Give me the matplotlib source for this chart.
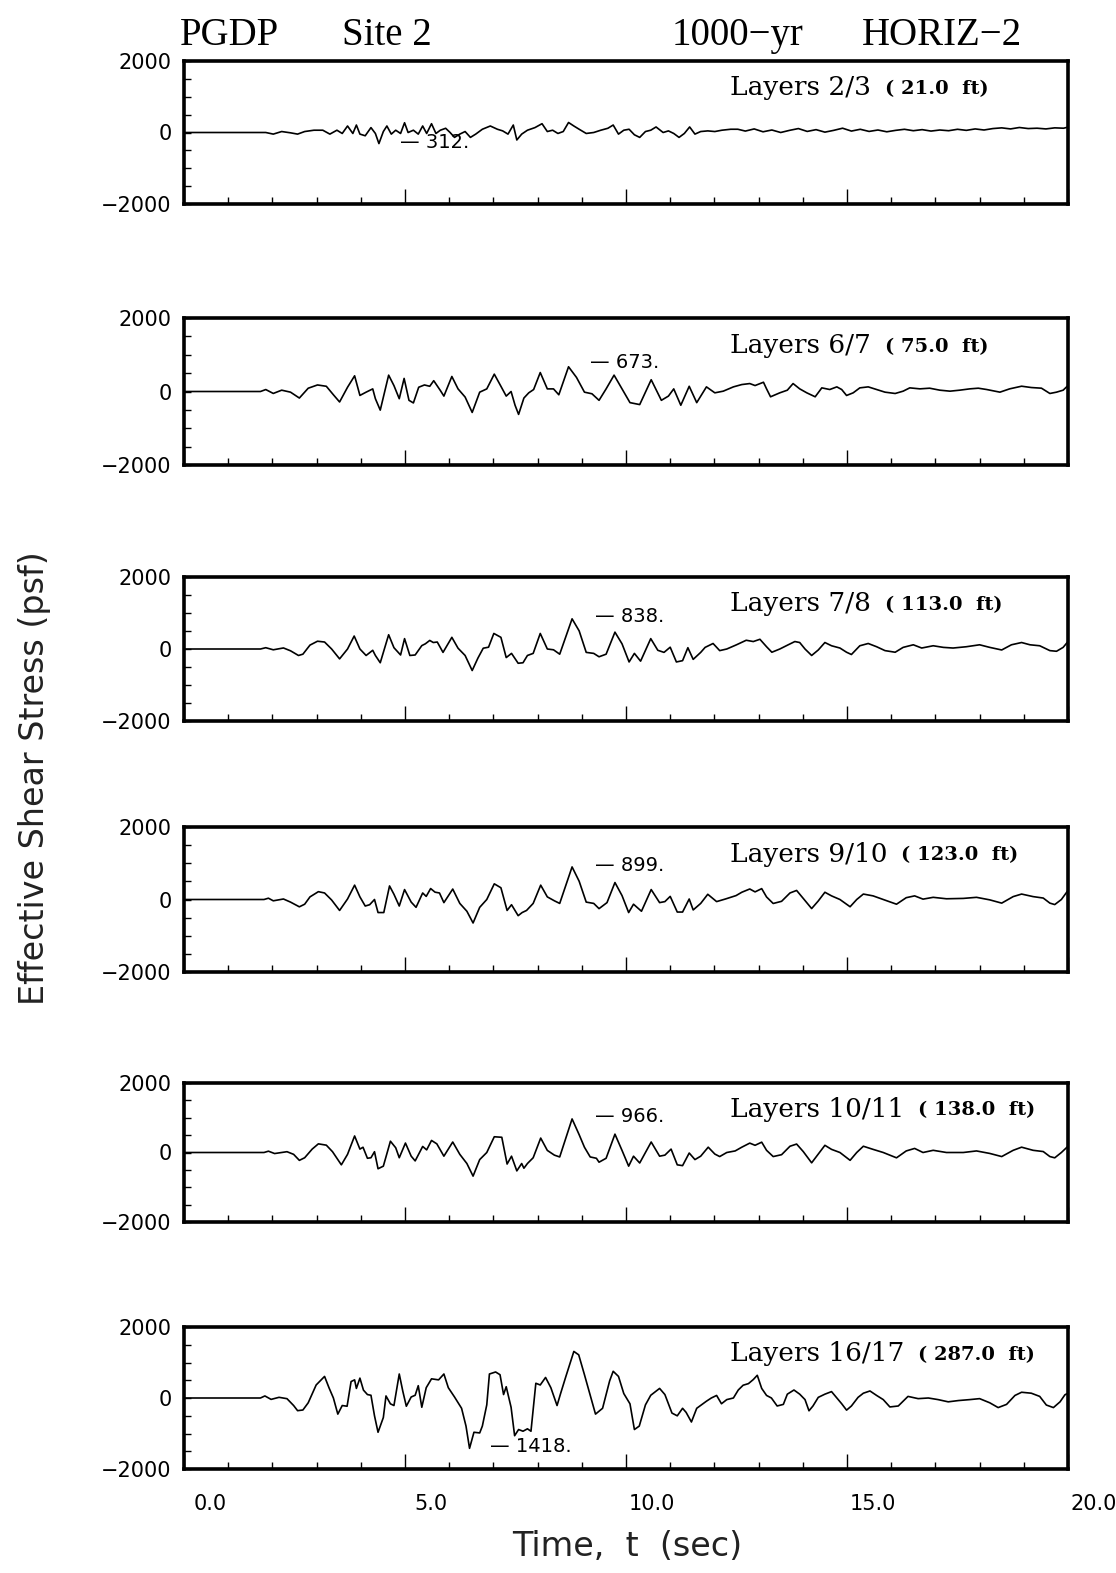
import matplotlib
matplotlib.use('Agg')
import matplotlib.pyplot as plt
from matplotlib.transforms import ScaledTranslation

# (time s, effective shear stress psf)
layers_2_3 = [(0, 0), (1.85, 0), (2.02, -45), (2.21, 27), (2.41, -9), (2.57, -45), (2.73, 27), (2.94, 64),
              (3.14, 64), (3.30, -45), (3.46, 64), (3.58, -27), (3.70, 182), (3.82, -27), (3.90, 209),
              (3.98, -45), (4.10, -91), (4.23, 137), (4.33, -27), (4.41, -310), (4.51, 27), (4.59, 182),
              (4.69, -45), (4.79, 64), (4.90, -27), (4.99, 273), (5.07, 0), (5.19, 64), (5.30, -45),
              (5.40, 182), (5.49, -27), (5.60, 246), (5.70, -27), (5.80, 64), (5.92, 118), (6.02, 0),
              (6.12, -137), (6.24, -45), (6.36, 27), (6.48, -137), (6.60, -45), (6.75, 91), (6.93, 182),
              (7.09, 91), (7.21, 45), (7.33, -45), (7.45, 209), (7.53, -209), (7.64, -45), (7.77, 64),
              (7.94, 137), (8.10, 246), (8.22, 27), (8.34, 64), (8.46, -27), (8.58, 27), (8.70, 280),
              (8.82, 182), (8.94, 91), (9.10, -27), (9.27, 0), (9.43, 64), (9.59, 118), (9.71, 209),
              (9.83, -45), (9.95, 64), (10.07, 91), (10.19, -64), (10.31, -137), (10.44, 27), (10.56, 64),
              (10.68, 155), (10.84, 0), (10.96, 45), (11.08, -27), (11.20, -137), (11.32, -27), (11.44, 155),
              (11.56, -45), (11.69, 27), (11.85, 45), (12.01, 27), (12.17, 64), (12.37, 91), (12.53, 91),
              (12.7, 40), (12.9, 100), (13.1, 20), (13.3, 70), (13.5, 0), (13.7, 60), (13.9, 110), (14.1, 30),
              (14.3, 80), (14.5, 10), (14.7, 60), (14.9, 120), (15.1, 40), (15.3, 90), (15.5, 30), (15.7, 70),
              (15.9, 20), (16.1, 60), (16.3, 90), (16.5, 50), (16.7, 80), (16.9, 40), (17.1, 70), (17.3, 50),
              (17.5, 90), (17.7, 60), (17.9, 100), (18.1, 70), (18.3, 110), (18.5, 130), (18.7, 100),
              (18.9, 140), (19.1, 110), (19.3, 120), (19.5, 100), (19.7, 130), (19.9, 120), (20.0, 150)]

layers_6_7 = [(0, 0), (1.73, 0), (1.85, 53), (2.02, -53), (2.21, 36), (2.41, -18), (2.61, -178), (2.81, 89),
              (3.02, 178), (3.22, 142), (3.38, -89), (3.52, -285), (3.70, 116), (3.86, 427), (3.98, -107),
              (4.12, -18), (4.27, 71), (4.33, -196), (4.44, -507), (4.63, 445), (4.75, 160), (4.87, -196),
              (4.98, 356), (5.09, -240), (5.19, -311), (5.31, 116), (5.44, 178), (5.56, 142), (5.65, 294),
              (5.80, 27), (5.88, -125), (6.06, 409), (6.20, 71), (6.36, -151), (6.52, -570), (6.69, -18),
              (6.85, 71), (7.02, 472), (7.17, 142), (7.29, -125), (7.40, 0), (7.49, -374), (7.57, -623),
              (7.69, -178), (7.80, -36), (7.91, 53), (8.06, 516), (8.22, 71), (8.36, 71), (8.48, -89),
              (8.70, 673), (8.88, 383), (9.06, -18), (9.23, -62), (9.39, -240), (9.55, 71), (9.73, 445),
              (9.91, 71), (10.09, -303), (10.31, -356), (10.57, 320), (10.80, -240), (10.96, -125),
              (11.08, 71), (11.24, -374), (11.43, 142), (11.60, -303), (11.82, 126), (12.01, -36), (12.2, 9),
              (12.43, 126), (12.62, 189), (12.80, 216), (12.92, 162), (13.11, 252), (13.18, 72), (13.27, -144),
              (13.48, -36), (13.65, 36), (13.78, 216), (13.93, 72), (14.09, -36), (14.28, -144), (14.43, 99),
              (14.61, 54), (14.77, 126), (14.88, 54), (14.99, -108), (15.14, -36), (15.29, 99), (15.48, 126),
              (15.67, 54), (15.86, -18), (16.09, -54), (16.27, 9), (16.42, 99), (16.65, 72), (16.87, 90),
              (17.10, 36), (17.33, 9), (17.55, 36), (17.78, 72), (17.97, 90), (18.16, 54), (18.46, -18),
              (18.68, 72), (18.95, 144), (19.17, 108), (19.40, 90), (19.59, -54), (19.74, -18), (19.89, 36),
              (20.0, 162)]

layers_7_8 = [(0, 0), (1.73, 0), (1.85, 36), (2.02, -22), (2.25, 29), (2.41, -50), (2.59, -180), (2.69, -144),
              (2.85, 108), (3.02, 216), (3.18, 194), (3.34, 0), (3.52, -274), (3.70, 0), (3.85, 360), (3.98, 0),
              (4.12, -180), (4.27, -36), (4.33, -180), (4.44, -382), (4.63, 396), (4.75, 36), (4.90, -166),
              (4.99, 288), (5.11, -180), (5.23, -166), (5.38, 94), (5.46, 144), (5.56, 238), (5.64, 180),
              (5.73, 194), (5.86, -94), (6.06, 324), (6.20, 22), (6.36, -180), (6.52, -598), (6.65, -252),
              (6.77, 22), (6.89, 50), (7.01, 432), (7.17, 324), (7.29, -238), (7.41, -122), (7.56, -396),
              (7.67, -382), (7.77, -180), (7.90, -122), (8.06, 432), (8.22, 0), (8.36, -22), (8.50, -144),
              (8.78, 838), (8.94, 504), (9.10, -94), (9.27, -122), (9.39, -216), (9.55, -144), (9.75, 468),
              (9.91, 144), (10.07, -360), (10.19, -122), (10.33, -338), (10.56, 288), (10.72, -36),
              (10.86, -94), (11.00, 50), (11.14, -360), (11.28, -324), (11.40, 36), (11.52, -288),
              (11.69, -94), (11.79, 45), (11.97, 153), (12.12, -45), (12.28, 0), (12.50, 117), (12.72, 243),
              (12.88, 207), (13.03, 270), (13.18, 63), (13.30, -90), (13.48, 0), (13.67, 117), (13.82, 207),
              (13.93, 180), (14.05, 0), (14.20, -180), (14.35, -27), (14.50, 180), (14.65, 90), (14.84, 27),
              (14.99, -90), (15.10, -153), (15.29, 90), (15.48, 153), (15.67, 63), (15.86, -45), (16.09, -90),
              (16.27, 45), (16.50, 117), (16.69, 27), (16.95, 90), (17.18, 45), (17.40, 27), (17.70, 63),
              (18.00, 117), (18.23, 45), (18.50, -27), (18.72, 117), (18.95, 180), (19.14, 117), (19.36, 90),
              (19.59, -45), (19.74, -63), (19.89, 45), (20.0, 207)]

layers_9_10 = [(0, 0), (1.81, 0), (1.91, 36), (2.02, -36), (2.25, 14), (2.41, -72), (2.61, -202), (2.73, -130),
               (2.85, 72), (3.04, 216), (3.18, 180), (3.34, -14), (3.52, -302), (3.70, 14), (3.86, 396),
               (3.98, 72), (4.10, -180), (4.20, -144), (4.31, 0), (4.39, -360), (4.52, -360), (4.65, 374),
               (4.75, 144), (4.87, -180), (4.99, 274), (5.14, -72), (5.25, -216), (5.40, 180), (5.48, 86),
               (5.58, 302), (5.68, 202), (5.78, 180), (5.88, -86), (6.08, 288), (6.24, -108), (6.40, -324),
               (6.54, -648), (6.69, -216), (6.85, 0), (7.02, 432), (7.17, 324), (7.31, -302), (7.41, -144),
               (7.56, -446), (7.65, -360), (7.75, -302), (7.90, -108), (8.07, 396), (8.22, 72), (8.38, -36),
               (8.50, -108), (8.78, 899), (8.94, 504), (9.10, -72), (9.27, -108), (9.39, -252), (9.57, -86),
               (9.75, 468), (9.91, 108), (10.06, -360), (10.17, -130), (10.35, -324), (10.57, 274),
               (10.76, -86), (10.88, -58), (11.00, 86), (11.16, -346), (11.28, -346), (11.43, 14),
               (11.52, -288), (11.69, -108), (11.85, 144), (12.05, -58), (12.25, 14), (12.49, 108),
               (12.62, 200), (12.80, 290), (12.92, 210), (13.07, 300), (13.18, 70), (13.33, -110),
               (13.52, -50), (13.71, 180), (13.86, 250), (14.01, 30), (14.20, -250), (14.35, -40), (14.50, 200),
               (14.65, 100), (14.84, 0), (15.07, -200), (15.22, 0), (15.37, 150), (15.59, 100), (15.82, 0),
               (16.12, -130), (16.34, 50), (16.53, 100), (16.72, 10), (16.95, 60), (17.25, 20), (17.63, 30),
               (17.93, 60), (18.23, -10), (18.50, -100), (18.76, 80), (18.95, 150), (19.21, 80), (19.44, 40),
               (19.59, -100), (19.70, -140), (19.85, 0), (20.0, 250)]

layers_10_11 = [(0, 0), (1.81, 0), (1.91, 38), (2.05, -30), (2.33, 23), (2.48, -53), (2.61, -226), (2.73, -151),
                (2.90, 98), (3.04, 249), (3.22, 211), (3.36, 23), (3.56, -355), (3.70, -53), (3.86, 476),
                (3.98, 98), (4.05, 151), (4.15, -166), (4.23, -151), (4.31, 23), (4.39, -468), (4.51, -393),
                (4.67, 325), (4.79, 136), (4.87, -151), (5.01, 272), (5.14, -106), (5.23, -242), (5.40, 174),
                (5.49, 76), (5.60, 347), (5.72, 249), (5.88, -106), (6.08, 302), (6.24, -53), (6.40, -317),
                (6.54, -680), (6.69, -204), (6.85, 0), (7.02, 453), (7.19, 438), (7.31, -332), (7.41, -106),
                (7.53, -529), (7.64, -317), (7.69, -453), (7.77, -317), (7.90, -151), (8.07, 415), (8.22, 60),
                (8.38, -76), (8.50, -128), (8.78, 966), (8.94, 513), (9.06, 151), (9.19, -128), (9.33, -166),
                (9.39, -279), (9.55, -166), (9.75, 528), (9.91, 60), (10.06, -393), (10.17, -106),
                (10.31, -302), (10.57, 302), (10.76, -106), (10.88, -76), (11.02, 98), (11.16, -355),
                (11.28, -378), (11.43, -15), (11.56, -204), (11.69, -106), (11.86, 153), (12.01, -45),
                (12.12, -117), (12.28, 0), (12.47, 45), (12.62, 153), (12.80, 270), (12.92, 207), (13.07, 297),
                (13.18, 63), (13.33, -117), (13.52, -63), (13.71, 180), (13.86, 243), (14.01, 27), (14.20, -297),
                (14.35, -45), (14.50, 207), (14.65, 90), (14.84, 0), (15.07, -225), (15.22, 0), (15.37, 180),
                (15.59, 90), (15.82, 0), (16.12, -153), (16.34, 45), (16.53, 117), (16.72, 0), (16.95, 63),
                (17.25, 0), (17.63, 0), (17.93, 45), (18.23, -27), (18.50, -117), (18.76, 63), (18.95, 153),
                (19.21, 63), (19.44, 27), (19.59, -117), (19.70, -153), (19.85, 0), (20.0, 180)]

layers_16_17 = [(0, 0), (1.73, 0), (1.83, 58), (1.97, -39), (2.15, 19), (2.33, -19), (2.48, -212), (2.57, -357),
                (2.69, -338), (2.81, -135), (2.99, 367), (3.18, 608), (3.28, 290), (3.38, 0), (3.48, -454),
                (3.58, -212), (3.69, -232), (3.78, 463), (3.86, 511), (3.90, 270), (3.98, 560), (4.06, 222),
                (4.15, 97), (4.23, 77), (4.31, -502), (4.39, -965), (4.51, -550), (4.57, 58), (4.67, -164),
                (4.75, -212), (4.87, 676), (4.95, 193), (5.03, -232), (5.14, 29), (5.23, 77), (5.30, 347),
                (5.38, -261), (5.48, 290), (5.60, 540), (5.76, 511), (5.88, 676), (5.98, 290), (6.12, 29),
                (6.28, -290), (6.38, -791), (6.46, -1418), (6.56, -965), (6.69, -984), (6.75, -791),
                (6.85, -193), (6.91, 676), (7.05, 733), (7.15, 656), (7.23, 97), (7.29, 318), (7.40, -261),
                (7.48, -1062), (7.57, -888), (7.67, -936), (7.77, -868), (7.85, -936), (7.96, 415), (8.06, 367),
                (8.18, 579), (8.30, 290), (8.44, -212), (8.52, 125), (8.64, 608), (8.82, 1312), (8.93, 1216),
                (9.06, 656), (9.19, 77), (9.31, -454), (9.47, -290), (9.63, 483), (9.71, 753), (9.83, 608),
                (9.95, 125), (10.09, -164), (10.19, -888), (10.30, -791), (10.44, -193), (10.56, 77),
                (10.76, 270), (10.88, 97), (11.04, -425), (11.16, -502), (11.28, -290), (11.36, -405),
                (11.48, -676), (11.60, -290), (11.82, -90), (11.93, 0), (12.05, 72), (12.16, -162), (12.28, -45),
                (12.43, 0), (12.54, 225), (12.65, 360), (12.77, 405), (12.88, 520), (12.97, 640), (13.07, 270),
                (13.18, 72), (13.29, 0), (13.42, -225), (13.56, -180), (13.65, 108), (13.80, 225), (13.93, 108),
                (14.05, -45), (14.14, -360), (14.23, -225), (14.35, 18), (14.50, 108), (14.65, 180), (14.76, 18),
                (14.88, -162), (14.99, -342), (15.10, -225), (15.25, 18), (15.37, 135), (15.52, 198),
                (15.67, 72), (15.82, -45), (15.97, -252), (16.16, -225), (16.38, 45), (16.61, -18), (16.84, 0),
                (17.06, -45), (17.29, -108), (17.52, -72), (17.78, -45), (18.00, -18), (18.23, -135),
                (18.42, -270), (18.61, -180), (18.80, 72), (18.95, 162), (19.17, 135), (19.36, 45),
                (19.51, -198), (19.67, -270), (19.82, -108), (19.93, 90), (20.0, 135)]

series = [layers_2_3, layers_6_7, layers_7_8, layers_9_10, layers_10_11, layers_16_17]
layer_names = ['Layers 2/3', 'Layers 6/7', 'Layers 7/8', 'Layers 9/10', 'Layers 10/11', 'Layers 16/17']
depths = ['( 21.0  ft)', '( 75.0  ft)', '( 113.0  ft)', '( 123.0  ft)', '( 138.0  ft)', '( 287.0  ft)']
peak_labels = ['312.', '673.', '838.', '899.', '966.', '1418.']
peak_label_pos = [(4.89, -280), (9.19, 790), (9.30, 910), (9.30, 940), (9.30, 1035), (6.92, -1380)]

W, H = 1116, 1573
panel_px = [(61, 204), (318, 465), (577, 721), (827, 972), (1083, 1222), (1327, 1469)]
x0, x1 = 184, 1068

fig = plt.figure(figsize=(W / 100, H / 100), dpi=100)

axes = []
for i, (top, bot) in enumerate(panel_px):
    ax = fig.add_axes([x0 / W, 1 - bot / H, (x1 - x0) / W, (bot - top) / H])
    t, s = zip(*series[i])
    ax.plot(t, s, color='black', lw=1.2)
    ax.set_xlim(0, 20)
    ax.set_ylim(-2000, 2000)
    for sp in ax.spines.values():
        sp.set_linewidth(2.6)
    ax.set_yticks([-2000, 0, 2000])
    ax.set_yticklabels(['\u22122000', '0', '2000'])
    ax.set_yticks(range(-2000, 2001, 500), minor=True)
    ax.set_xticks([0, 5, 10, 15, 20])
    ax.set_xticks(range(0, 21), minor=True)
    ax.tick_params(axis='y', which='both', direction='in', length=5, width=1, labelsize=15, pad=9)
    ax.tick_params(axis='x', which='major', direction='in', length=11, width=1)
    ax.tick_params(axis='x', which='minor', direction='in', length=5, width=1)
    ax.tick_params(axis='x', labelsize=15, pad=18)

    txt = ax.text(12.35, 1250, layer_names[i], family='DejaVu Serif', fontsize=19, va='center', ha='left')
    ax.annotate(depths[i], xy=(1, 0.45), xycoords=txt, xytext=(10, 0), textcoords='offset points',
                family='DejaVu Serif', fontsize=14, fontweight='bold', va='center', ha='left')
    px, py = peak_label_pos[i]
    ax.text(px, py, '\u2014 ' + peak_labels[i], fontsize=14, va='center', ha='left')
    axes.append(ax)

for ax in axes[:-1]:
    ax.tick_params(axis='x', labelbottom=False)

ax = axes[-1]
ax.set_xticklabels(['0.0', '5.0', '10.0', '15.0', '20.0'])
shift = ScaledTranslation(0.26, 0, fig.dpi_scale_trans)
for lab in ax.get_xticklabels():
    lab.set_transform(lab.get_transform() + shift)

fig.text(180 / W, 1 - 45 / H, 'PGDP', family='Liberation Serif', fontsize=28, va='baseline', ha='left')
fig.text(342 / W, 1 - 45 / H, 'Site 2', family='Liberation Serif', fontsize=28, va='baseline', ha='left')
fig.text(672 / W, 1 - 45 / H, '1000\u2212yr', family='Liberation Serif', fontsize=28, va='baseline', ha='left')
fig.text(862 / W, 1 - 45 / H, 'HORIZ\u22122', family='Liberation Serif', fontsize=28, va='baseline', ha='left')

fig.text(35 / W, 1 - 778 / H, 'Effective Shear Stress (psf)', rotation=90, fontsize=24,
         va='center', ha='center', color='#222222')
fig.text(627 / W, 1 - 1547 / H, 'Time,  t  (sec)', fontsize=24, va='center', ha='center', color='#222222')

fig.savefig('out.png', dpi=100)
